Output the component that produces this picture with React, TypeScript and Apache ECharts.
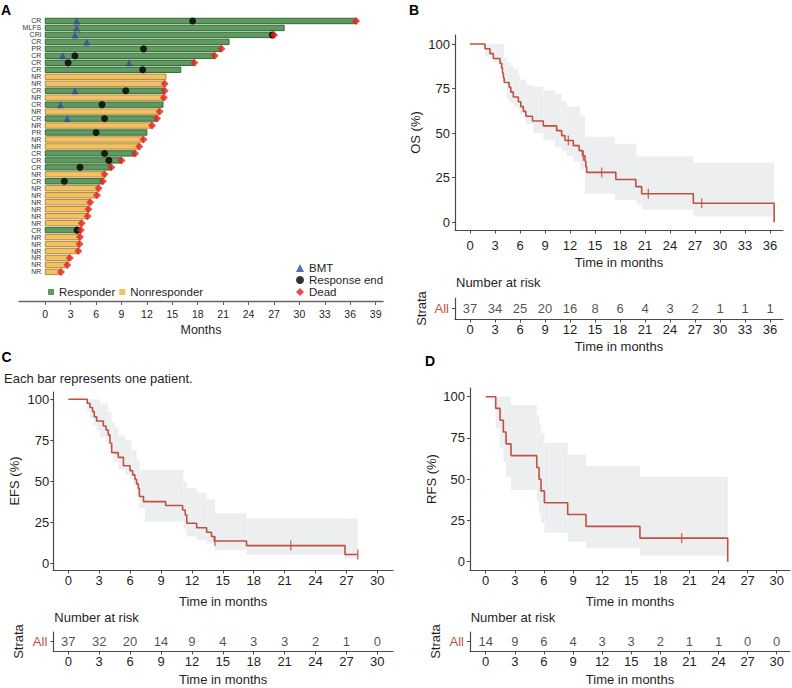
import React, { useEffect, useRef } from "react";
import * as echarts from "echarts";

const FONT = '"Liberation Sans", Arial, Helvetica, sans-serif';
const TEXT = "#1f1f1f";
const AXIS = "#4a4a4a";
const KM_RED = "#c1513f";
const BAND = "#eceef0";
const GREEN = "#5e9b5e";
const GREEN_EDGE = "#2f5e31";
const ORANGE = "#f5c160";
const ORANGE_EDGE = "#a4823d";

// ---------- Panel A: swimmer plot ----------
const rowLabels = ["CR", "MLFS", "CRi", "CR", "PR", "CR", "CR", "CR", "NR", "NR", "CR", "NR", "CR", "NR", "CR", "NR", "PR", "NR", "NR", "CR", "CR", "CR", "NR", "CR", "NR", "NR", "NR", "NR", "NR", "NR", "CR", "NR", "NR", "NR", "NR", "NR", "NR"];
const barEnds = [36.7, 28.2, 27.0, 21.7, 20.8, 20.0, 17.6, 16.0, 14.25, 14.1, 14.1, 14.0, 13.9, 13.5, 13.2, 12.6, 12.0, 11.6, 11.1, 10.6, 9.0, 7.8, 7.0, 6.8, 6.3, 6.1, 5.3, 5.1, 5.0, 4.3, 4.2, 4.1, 4.05, 3.9, 2.9, 2.6, 1.85];
const deadRows = [1, 3, 5, 6, 7, 10, 11, 12, 14, 15, 16, 18, 19, 20, 21, 22, 23, 24, 25, 26, 27, 28, 29, 30, 31, 32, 33, 34, 35, 36, 37];
const bmtRows = [1, 2, 3, 4, 6, 7, 11, 13, 15];
const bmtMonths = [3.7, 3.7, 3.5, 4.9, 2.05, 9.9, 3.5, 1.8, 2.6];
const respEndRows = [1, 3, 5, 6, 7, 8, 11, 13, 15, 17, 20, 21, 22, 24, 31];
const respEndMonths = [17.4, 26.8, 11.6, 3.5, 2.7, 11.5, 9.5, 6.7, 7.0, 6.0, 7.0, 7.5, 4.1, 2.25, 3.75];
const ticksA = [0, 3, 6, 9, 12, 15, 18, 21, 24, 27, 30, 33, 36, 39];

// ---------- Panel B: OS ----------
const osTimes = [0, 1.8, 2.4, 2.8, 3.6, 3.8, 3.9, 4.0, 4.1, 4.7, 4.9, 5.2, 5.8, 6.1, 6.4, 6.7, 7.5, 8.8, 10.4, 11.0, 11.4, 12.4, 13.1, 13.5, 13.8, 13.9, 14.0, 17.5, 19.9, 20.6, 26.8, 36.5];
const osSurv = [100, 97.3, 94.6, 91.9, 89.2, 86.5, 83.8, 81.1, 78.4, 75.7, 73.0, 70.3, 67.6, 64.9, 62.2, 59.5, 56.8, 54.1, 51.4, 48.6, 45.9, 43.0, 40.2, 37.3, 34.2, 31.1, 28.0, 24.0, 20.0, 16.0, 10.7, 0];
const osCensorT = [11.8, 13.6, 15.8, 21.4, 27.8];
const osCensorS = [45.9, 37.3, 28.0, 16.0, 10.7];
const osBandT = [1.8, 2.8, 3.6, 4.1, 4.4, 4.7, 5.2, 5.8, 6.0, 6.7, 7.6, 8.8, 10.2, 11.0, 11.6, 12.4, 13.2, 13.8, 17.4, 20.0, 20.6, 26.8];
const osBandEnd = 36.5;
const osBandUp = [100, 100, 100, 92.5, 90, 88, 86, 83, 80, 77, 76, 74, 72, 68, 65, 65, 60, 48, 44, 37, 37, 33.5];
const osBandLo = [93, 90, 86, 79, 69, 67, 65, 63, 61, 55, 50, 46, 42, 40, 37, 34, 30, 16, 12.5, 10, 7, 3.2];
const osRiskT = [0, 3, 6, 9, 12, 15, 18, 21, 24, 27, 30, 33, 36];
const osRisk = [37, 34, 25, 20, 16, 8, 6, 4, 3, 2, 1, 1, 1];

// ---------- Panel C: EFS ----------
const efsTimes = [0, 1.84, 2.1, 2.36, 2.52, 2.75, 3.4, 3.66, 3.88, 4.05, 4.21, 4.85, 5.35, 5.99, 6.25, 6.47, 6.63, 6.8, 6.9, 7.3, 9.45, 11.1, 11.35, 11.5, 12.46, 13.43, 13.9, 14.17, 17.3, 26.86, 28.1];
const efsSurv = [100, 97.6, 95, 92.5, 89.4, 86.8, 83.7, 81.3, 78.3, 73.2, 67.5, 64.6, 59.5, 56.5, 53.9, 51.2, 48.4, 45.7, 40.7, 37.6, 35.2, 32.5, 29.5, 24.4, 21.7, 18.9, 16.3, 13.6, 10.8, 5.4, 5.4];
const efsCensorT = [14.24, 21.6, 28.1];
const efsCensorS = [13.6, 10.8, 5.4];
const efsBandT = [1.84, 2.1, 2.43, 2.75, 3.07, 3.66, 3.88, 4.2, 4.37, 4.53, 4.85, 5.5, 6.0, 6.15, 6.31, 6.63, 6.9, 7.44, 11.17, 11.49, 12.46, 13.43, 14.24, 17.3, 26.86];
const efsBandEnd = 28.1;
const efsBandUp = [100, 100, 100, 100, 97.5, 97.5, 92.5, 86, 86, 83, 78, 75, 75, 69, 69, 63, 57, 57, 50, 46, 43, 39, 30.5, 27.4, 27.4];
const efsBandLo = [92.5, 88.4, 84.3, 81, 77, 73, 73, 67, 62, 62, 57, 54, 51, 51, 47, 41, 33.5, 25.4, 21, 16.3, 14.2, 12.2, 8.1, 5.1, 3];
const efsRiskT = [0, 3, 6, 9, 12, 15, 18, 21, 24, 27, 30];
const efsRisk = [37, 32, 20, 14, 9, 4, 3, 3, 2, 1, 0];

// ---------- Panel D: RFS ----------
const rfsTimes = [0, 1.03, 1.48, 1.82, 2.1, 2.61, 5.26, 5.5, 5.7, 6.05, 8.45, 10.34, 15.9, 24.95];
const rfsSurv = [100, 92.9, 85.7, 78.6, 71.4, 64.3, 57.1, 50, 42.9, 35.7, 28.6, 21.4, 14.3, 0];
const rfsCensorT = [20.2];
const rfsCensorS = [14.3];
const rfsBandT = [1.03, 1.48, 1.82, 2.1, 2.61, 5.26, 5.5, 5.7, 6.05, 8.45, 10.34, 15.9];
const rfsBandEnd = 24.95;
const rfsBandUp = [100, 100, 100, 100, 95, 89, 84, 78, 72, 65, 58, 51.5];
const rfsBandLo = [81, 69, 60.6, 51.5, 43.4, 36.4, 29.3, 23.6, 17.6, 12.1, 8.1, 3.6];
const rfsRiskT = [0, 3, 6, 9, 12, 15, 18, 21, 24, 27, 30];
const rfsRisk = [14, 9, 6, 4, 3, 3, 2, 1, 1, 0, 0];

const pctTicks = [0, 25, 50, 75, 100];
const ticks30 = [0, 3, 6, 9, 12, 15, 18, 21, 24, 27, 30];
const ticks36 = [0, 3, 6, 9, 12, 15, 18, 21, 24, 27, 30, 33, 36];

const txt = (size: number, color = TEXT) => ({ fontSize: size, color, fontFamily: FONT });

function kmX(gridIndex: number, min: number, max: number, ticks: number[], margin: number, nameGap: number) {
  return {
    type: "value", gridIndex, min, max,
    axisLine: { show: true, onZero: false, lineStyle: { color: AXIS, width: 1.2 } },
    axisTick: { show: true, customValues: ticks, length: 3.5, lineStyle: { color: AXIS } },
    axisLabel: { customValues: ticks, margin, ...txt(13) },
    splitLine: { show: false },
    name: "Time in months", nameLocation: "middle", nameGap, nameTextStyle: txt(13),
  };
}
function kmY(gridIndex: number, min: number, max: number, name: string, margin: number, nameGap: number) {
  return {
    type: "value", gridIndex, min, max,
    axisLine: { show: true, onZero: false, lineStyle: { color: AXIS, width: 1.2 } },
    axisTick: { show: true, customValues: pctTicks, length: 3, lineStyle: { color: AXIS } },
    axisLabel: { customValues: pctTicks, margin, ...txt(13) },
    splitLine: { show: false },
    name, nameLocation: "middle", nameGap, nameTextStyle: txt(13),
  };
}
function riskY(gridIndex: number, nameGap: number) {
  return {
    type: "category", gridIndex, data: ["All"],
    axisLine: { show: true, onZero: false, lineStyle: { color: AXIS, width: 1.2 } },
    axisTick: { show: true, alignWithLabel: true, length: 3, lineStyle: { color: AXIS } },
    axisLabel: { margin: 6, ...txt(13, KM_RED) },
    name: "Strata", nameLocation: "middle", nameGap, nameTextStyle: txt(13),
  };
}
function bandSeries(idx: number, t: number[], end: number, lo: number[], up: number[]) {
  return {
    type: "custom", xAxisIndex: idx, yAxisIndex: idx, silent: true, z: 1,
    encode: { x: [0, 1], y: [2, 3] },
    data: t.map((v, i) => [v, i + 1 < t.length ? t[i + 1] : end, lo[i], up[i]]),
    renderItem: (_p: any, api: any) => {
      const a = api.coord([api.value(0), api.value(3)]);
      const b = api.coord([api.value(1), api.value(2)]);
      return { type: "rect", shape: { x: a[0], y: a[1], width: b[0] - a[0], height: b[1] - a[1] }, style: { fill: BAND } };
    },
  };
}
function curveSeries(idx: number, t: number[], s: number[]) {
  return {
    type: "line", xAxisIndex: idx, yAxisIndex: idx, step: "end", symbol: "none", z: 3,
    lineStyle: { color: KM_RED, width: 1.6 },
    data: t.map((v, i) => [v, s[i]]),
  };
}
function censorSeries(idx: number, t: number[], s: number[]) {
  return {
    type: "scatter", xAxisIndex: idx, yAxisIndex: idx, symbol: "rect", symbolSize: [1.4, 10], z: 4,
    itemStyle: { color: KM_RED },
    data: t.map((v, i) => [v, s[i]]),
  };
}
function riskSeries(idx: number, t: number[], n: number[]) {
  return {
    type: "scatter", xAxisIndex: idx, yAxisIndex: idx, symbolSize: 1,
    itemStyle: { color: "rgba(0,0,0,0)" },
    label: { show: true, position: "inside", formatter: (p: any) => String(p.value[2]), ...txt(13) },
    data: t.map((v, i) => [v, 0, n[i]]),
  };
}

function barSeries(name: string, fill: string, stroke: string, responder: boolean) {
  return {
    type: "custom", name, xAxisIndex: 0, yAxisIndex: 0, z: 2,
    itemStyle: { color: fill },
    encode: { x: 0, y: 1 },
    data: barEnds.map((e, i) => [e, i + 1]).filter((_d, i) => (rowLabels[i] !== "NR") === responder),
    renderItem: (_p: any, api: any) => {
      const end = api.value(0);
      const row = api.value(1);
      const s = api.coord([0, row]);
      const e = api.coord([end, row]);
      const h = 5.4;
      return {
        type: "group",
        children: [
          { type: "rect", shape: { x: s[0], y: s[1] - h / 2, width: e[0] - s[0], height: h }, style: { fill, stroke, lineWidth: 0.9 } },
          { type: "text", x: s[0] - 4, y: s[1], style: { text: rowLabels[row - 1], fontSize: 7, fontFamily: FONT, fill: "#333", align: "right", verticalAlign: "middle" } },
        ],
      };
    },
  };
}

export default function App() {
  const ref = useRef<HTMLDivElement>(null);
  useEffect(() => {
    if (!ref.current) return;
    const chart = echarts.init(ref.current, undefined, { renderer: "svg" });
    const option: any = {
      animation: false,
      backgroundColor: "#ffffff",
      textStyle: { fontFamily: FONT },
      grid: [
        { left: 19, top: 17, width: 364, height: 284, outerBoundsMode: "none" },
        { left: 455, top: 35, width: 328, height: 195, outerBoundsMode: "none" },
        { left: 455, top: 298, width: 328, height: 21, outerBoundsMode: "none" },
        { left: 53.3, top: 392, width: 339.7, height: 178, outerBoundsMode: "none" },
        { left: 53.3, top: 632, width: 339.7, height: 19, outerBoundsMode: "none" },
        { left: 470, top: 388, width: 320, height: 182, outerBoundsMode: "none" },
        { left: 470, top: 632, width: 320, height: 19, outerBoundsMode: "none" },
      ],
      xAxis: [
        {
          type: "value", gridIndex: 0, min: -3.1, max: 39.87,
          axisLine: { show: true, onZero: false, lineStyle: { color: "#666", width: 1.4 } },
          axisTick: { show: true, customValues: ticksA, length: 4, lineStyle: { color: "#666" } },
          axisLabel: { customValues: ticksA, margin: 7, ...txt(10.5) },
          splitLine: { show: false },
          name: "Months", nameLocation: "middle", nameGap: 22, nameTextStyle: txt(12.5),
        },
        kmX(1, -1.8, 37.56, ticks36, 9, 26),
        kmX(2, -1.8, 37.56, ticks36, 4, 20.5),
        kmX(3, -1.456, 31.52, ticks30, 4, 25),
        kmX(4, -1.456, 31.52, ticks30, 4, 21.5),
        kmX(5, -1.62, 31.37, ticks30, 4, 25),
        kmX(6, -1.62, 31.37, ticks30, 4, 21.5),
      ],
      yAxis: [
        { type: "value", gridIndex: 0, min: 0.43, max: 41.17, inverse: true, show: false },
        kmY(1, -4.32, 105.05, "OS (%)", 5, 33),
        riskY(2, 27.5),
        kmY(3, -4.09, 104.45, "EFS (%)", 4, 32.5),
        riskY(4, 28.8),
        kmY(5, -5.03, 105.27, "RFS (%)", 5, 31.8),
        riskY(6, 28.5),
      ],
      legend: [
        {
          data: ["Responder", "Nonresponder"], left: 48, top: 286, icon: "rect",
          itemWidth: 6, itemHeight: 6, itemGap: 4, padding: 0, selectedMode: false,
          textStyle: txt(11.5),
        },
        {
          data: ["BMT", "Response end", "Dead"], orient: "vertical", left: 296, top: 262,
          itemWidth: 8, itemHeight: 8, itemGap: 0, padding: 0, selectedMode: false,
          textStyle: { ...txt(11.5), lineHeight: 11.7 },
        },
      ],
      series: [
        barSeries("Responder", GREEN, GREEN_EDGE, true),
        barSeries("Nonresponder", ORANGE, ORANGE_EDGE, false),
        {
          type: "scatter", name: "BMT", xAxisIndex: 0, yAxisIndex: 0, symbol: "triangle", symbolSize: 7, z: 5,
          itemStyle: { color: "#34499f" },
          data: bmtRows.map((r, i) => [bmtMonths[i], r]),
        },
        {
          type: "scatter", name: "Response end", xAxisIndex: 0, yAxisIndex: 0, symbol: "circle", symbolSize: 7, z: 5,
          itemStyle: { color: "#000000" },
          data: respEndRows.map((r, i) => [respEndMonths[i], r]),
        },
        {
          type: "scatter", name: "Dead", xAxisIndex: 0, yAxisIndex: 0, symbol: "diamond", symbolSize: 8, z: 6,
          itemStyle: { color: "#e8211d" },
          data: deadRows.map((r) => [barEnds[r - 1], r]),
        },
        bandSeries(1, osBandT, osBandEnd, osBandLo, osBandUp),
        curveSeries(1, osTimes, osSurv),
        censorSeries(1, osCensorT, osCensorS),
        riskSeries(2, osRiskT, osRisk),
        bandSeries(3, efsBandT, efsBandEnd, efsBandLo, efsBandUp),
        curveSeries(3, efsTimes, efsSurv),
        censorSeries(3, efsCensorT, efsCensorS),
        riskSeries(4, efsRiskT, efsRisk),
        bandSeries(5, rfsBandT, rfsBandEnd, rfsBandLo, rfsBandUp),
        curveSeries(5, rfsTimes, rfsSurv),
        censorSeries(5, rfsCensorT, rfsCensorS),
        riskSeries(6, rfsRiskT, rfsRisk),
      ],
      graphic: [
        { type: "text", left: 1, top: 3, style: { text: "A", fontSize: 14, fontWeight: "bold", fontFamily: FONT, fill: "#000" } },
        { type: "text", left: 409, top: 3, style: { text: "B", fontSize: 14, fontWeight: "bold", fontFamily: FONT, fill: "#000" } },
        { type: "text", left: 1.5, top: 350, style: { text: "C", fontSize: 14, fontWeight: "bold", fontFamily: FONT, fill: "#000" } },
        { type: "text", left: 425, top: 354, style: { text: "D", fontSize: 14, fontWeight: "bold", fontFamily: FONT, fill: "#000" } },
        { type: "text", left: 4, top: 372, style: { text: "Each bar represents one patient.", fontSize: 13, fontFamily: FONT, fill: TEXT } },
        { type: "text", left: 456, top: 276, style: { text: "Number at risk", fontSize: 13, fontFamily: FONT, fill: TEXT } },
        { type: "text", left: 54.3, top: 611, style: { text: "Number at risk", fontSize: 13, fontFamily: FONT, fill: TEXT } },
        { type: "text", left: 470.7, top: 611, style: { text: "Number at risk", fontSize: 13, fontFamily: FONT, fill: TEXT } },
      ],
    };
    chart.setOption(option);
    return () => chart.dispose();
  }, []);
  return <div ref={ref} style={{ position: "fixed", left: 0, top: 0, width: 792, height: 688, background: "#fff" }} />;
}
